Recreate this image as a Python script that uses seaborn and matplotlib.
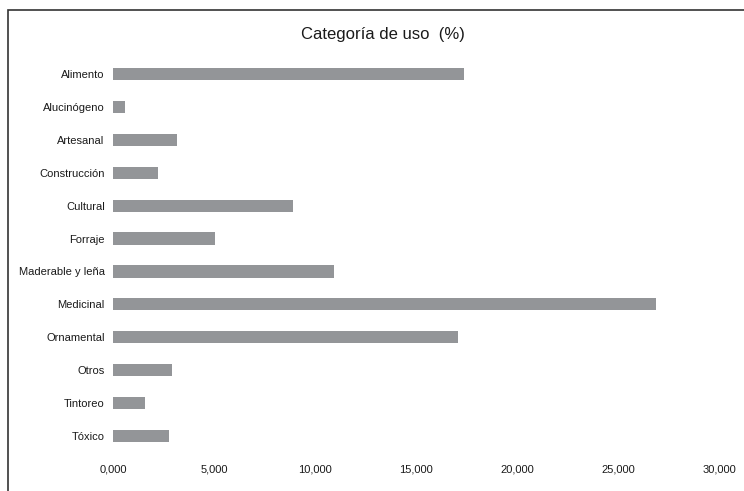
import matplotlib
matplotlib.use("Agg")
import matplotlib.pyplot as plt
from matplotlib.ticker import FuncFormatter, MultipleLocator
from matplotlib.patches import Rectangle
import seaborn as sns
import pandas as pd

# Usage categories and their share (%)
categorias = [
    "Alimento", "Alucinógeno", "Artesanal", "Construcción", "Cultural",
    "Forraje", "Maderable y leña", "Medicinal", "Ornamental", "Otros",
    "Tintoreo", "Tóxico",
]
porcentajes = [17.36, 0.59, 3.17, 2.23, 8.91, 5.05, 10.94, 26.90, 17.06, 2.92, 1.58, 2.77]

df = pd.DataFrame({"categoria": categorias, "porcentaje": porcentajes})

sns.set_theme(style="white")
plt.rcParams["font.family"] = ["Liberation Sans", "DejaVu Sans"]

fig = plt.figure(figsize=(7.44, 4.91), dpi=100)
ax = fig.add_axes([113 / 744, 1 - 452.5 / 491, (719 - 113) / 744, (452.5 - 57.5) / 491])

sns.barplot(data=df, x="porcentaje", y="categoria", orient="h",
            color="#939598", saturation=1, width=0.37, linewidth=0, ax=ax)

ax.set_xlim(0, 30)
ax.set_ylim(len(categorias) - 0.5, -0.5)
ax.xaxis.set_major_locator(MultipleLocator(5))
ax.xaxis.set_major_formatter(FuncFormatter(lambda v, _: f"{v:.3f}".replace(".", ",")))
ax.set_xlabel("")
ax.set_ylabel("")
for s in ax.spines.values():
    s.set_visible(False)
ax.tick_params(axis="x", length=0, pad=9, labelsize=8, colors="#1a1a1a")
ax.tick_params(axis="y", length=0, pad=6, labelsize=8, colors="#1a1a1a")

fig.text(383 / 744, 1 - 34 / 491, "Categoría de uso  (%)", ha="center", va="center",
         fontsize=12, color="#1a1a1a")

# Outer chart frame
fig.patches.append(Rectangle((8 / 744, -0.05), 1.1, 1 - 10 / 491 + 0.05,
                             transform=fig.transFigure, fill=False,
                             edgecolor="#333333", linewidth=1.2))

fig.savefig("out.png", dpi=100)
